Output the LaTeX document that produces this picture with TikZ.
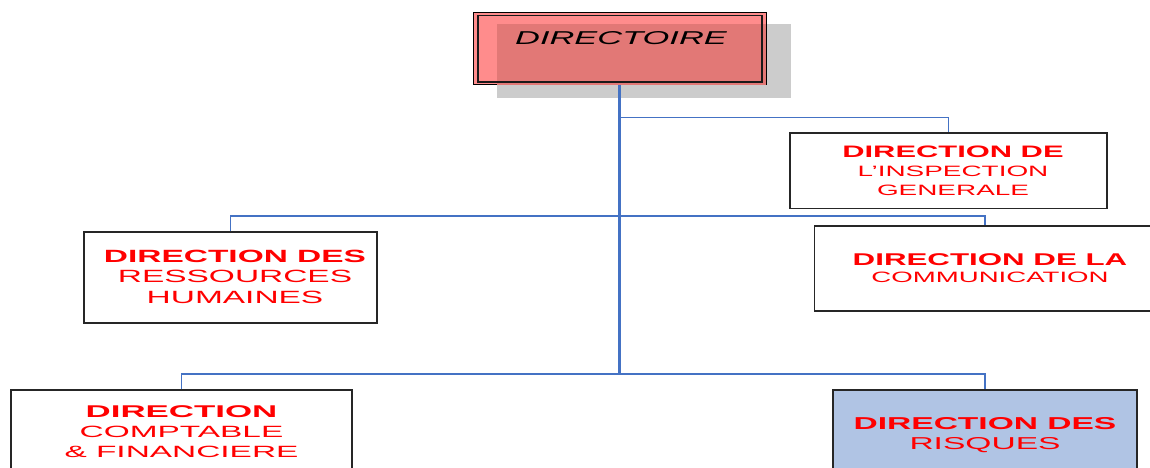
\documentclass[tikz,border=0pt]{standalone}
\usepackage{fontspec}
\setmainfont{Liberation Sans}
\usepackage{graphicx}
\definecolor{linkblue}{HTML}{4472C4}
\definecolor{dirpink}{HTML}{FF8C8C}
\definecolor{diroverlap}{HTML}{E27876}
\definecolor{shadowgray}{HTML}{CCCCCC}
\definecolor{riskblue}{HTML}{B0C4E4}
% scaled multi-line caption: #1 horizontal stretch, #2 font size, #3 line spacing, #4 rows
\newcommand\wideblock[4]{\scalebox{#1}[1]{\fontsize{#2}{#3}\selectfont\begin{tabular}[t]{@{}c@{}}#4\end{tabular}}}
\newcommand\rgsize[1]{\fontsize{#1}{#1}\selectfont}
\tikzset{
  unit/.style={draw=black!85, line width=1.5pt, inner sep=0pt, fill=white},
  dirbox/.style={draw=black, line width=0.8pt, inner sep=0pt, fill=dirpink},
  link/.style={draw=linkblue, line width=1.1pt},
  trunk/.style={draw=linkblue, line width=2.2pt},
  txt/.style={anchor=base, inner sep=0pt, text=red},
}
\begin{document}
\begin{tikzpicture}[x=1pt,y=-1pt]
\useasboundingbox (0,0) rectangle (1150,468);
\clip (0,0) rectangle (1150,468);

% top box with its offset shadow
\fill[shadowgray] (497,24) rectangle (791,98);
\node[dirbox, minimum width=293pt, minimum height=72pt] (dir) at (619.5,48.5) {};
\fill[diroverlap] (497,24) rectangle (dir.south east);
\draw[line width=1.6pt, black!90] (478,15.5) rectangle (762,82);
\node[txt, text=black] (dir-t) at (621,45)
  {\scalebox{1.85}[1]{\fontsize{18.6}{20}\selectfont\itshape DIRECTOIRE}};

% departments
\node[unit, minimum width=317pt, minimum height=75.5pt] (insp) at (948.5,170.5) {};
\node[unit, minimum width=341pt, minimum height=85pt] (comm) at (985,268.5) {};
\node[unit, minimum width=293pt, minimum height=91pt] (rh) at (230.5,277.5) {};
\node[unit, minimum width=341pt, minimum height=100pt] (compt) at (181.5,440) {};
\node[unit, fill=riskblue, minimum width=304pt, minimum height=100pt] (risk) at (985,440) {};

\node[txt] (insp-t) at (953,157) {\wideblock{1.86}{16.6}{19}{\textbf{DIRECTION DE}\\ \rgsize{15}L’INSPECTION\\ \rgsize{15}GENERALE}};
\node[txt] (comm-t) at (990,265) {\wideblock{1.84}{17}{17.5}{\textbf{DIRECTION DE LA}\\ \rgsize{15}COMMUNICATION}};
\node[txt] (rh-t) at (235,262.5) {\wideblock{1.89}{17.7}{20.3}{\textbf{DIRECTION DES}\\ RESSOURCES\\ HUMAINES}};
\node[txt] (compt-t) at (181.5,417) {\wideblock{2.05}{17}{20}{\textbf{DIRECTION}\\ \rgsize{16.3}COMPTABLE\\ \rgsize{16.3}\& FINANCIERE}};
\node[txt] (risk-t) at (985,429) {\wideblock{1.95}{17.2}{20}{\textbf{DIRECTION DES}\\ RISQUES}};

% connectors
\coordinate (bus1) at (619.5,117.5);
\coordinate (bus2) at (619.5,216);
\coordinate (bus3) at (619.5,374);
\draw[trunk] (dir.south) -- (bus3);
\draw[link] (bus1) -| (insp.north);
\draw[link] (rh.north) |- (bus2) -| (comm.north);
\draw[link] (compt.north) |- (bus3) -| (risk.north);
\end{tikzpicture}
\end{document}
